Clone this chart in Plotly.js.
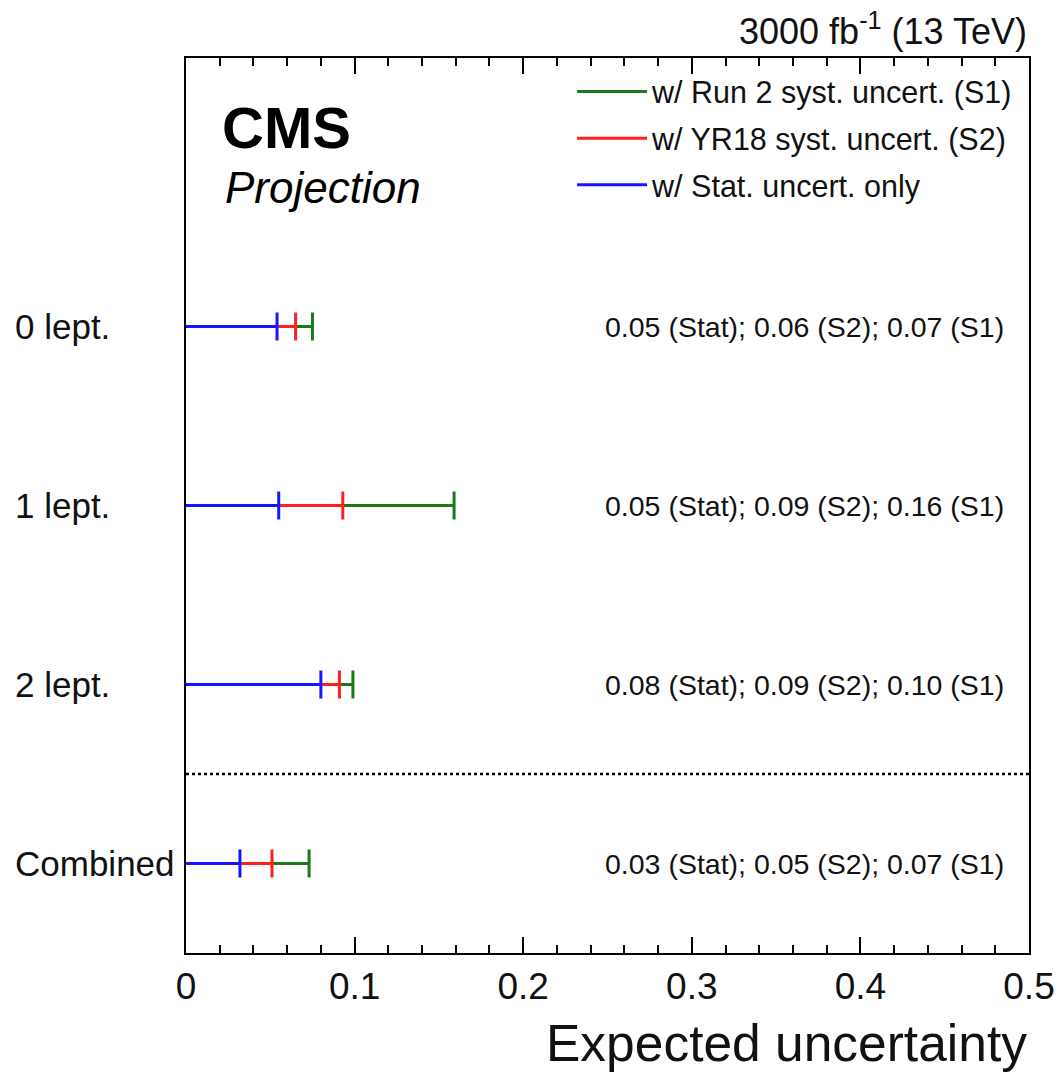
<!DOCTYPE html>
<html>
<head>
<meta charset="utf-8">
<script src="https://cdn.plot.ly/plotly-3.0.1.min.js"></script>
<style>html,body{margin:0;padding:0;background:#fff;}</style>
</head>
<body>
<div id="chart" style="width:1058px;height:1072px;"></div>
<script>
// ---- data ----
var categories = ['0 lept.', '1 lept.', '2 lept.', 'Combined'];
var statOnly = [0.054, 0.055, 0.080, 0.032];
var s2Syst   = [0.065, 0.093, 0.091, 0.051];
var s1Syst   = [0.075, 0.159, 0.099, 0.073];
var valueLabels = [
  '0.05 (Stat); 0.06 (S2); 0.07 (S1)',
  '0.05 (Stat); 0.09 (S2); 0.16 (S1)',
  '0.08 (Stat); 0.09 (S2); 0.10 (S1)',
  '0.03 (Stat); 0.05 (S2); 0.07 (S1)'
];
var seriesNames = ['w/ Run 2 syst. uncert. (S1)', 'w/ YR18 syst. uncert. (S2)', 'w/ Stat. uncert. only'];
var seriesColors = ['#1a7a1a', '#ff1f1f', '#1515ff'];
var seriesValues = [s1Syst, s2Syst, statOnly];

// y positions: first category on top
var yPos = categories.map(function (c, i) { return categories.length - i; });
var sepY = yPos[categories.length - 1] + 0.5;

var FONT = 'Liberation Sans, Arial, Helvetica, sans-serif';
var traces = [];
seriesValues.forEach(function (vals, s) {
  var lx = [], ly = [];
  vals.forEach(function (v, i) { lx.push(0, v, null); ly.push(yPos[i], yPos[i], null); });
  traces.push({
    type: 'scatter', mode: 'lines', x: lx, y: ly, name: seriesNames[s],
    legendgroup: 'g' + s, line: {color: seriesColors[s], width: 3}, hoverinfo: 'skip'
  });
  traces.push({
    type: 'scatter', mode: 'markers', x: vals, y: yPos, showlegend: false,
    legendgroup: 'g' + s,
    marker: {symbol: 'line-ns', size: 20, line: {color: seriesColors[s], width: 3}}
  });
});

var annotations = [];
categories.forEach(function (c, i) {
  annotations.push({xref: 'paper', yref: 'y', x: -0.2050, y: yPos[i], text: c,
    xanchor: 'left', yanchor: 'middle', showarrow: false, font: {size: 35, color: '#111', family: FONT}});
  annotations.push({xref: 'x', yref: 'y', x: 0.4866, y: yPos[i], text: valueLabels[i],
    xanchor: 'right', yanchor: 'middle', showarrow: false, font: {size: 28.5, color: '#111', family: FONT}});
});
annotations.push({xref: 'paper', yref: 'paper', x: 0.040, y: 0.922, text: '<b>CMS</b>',
  xanchor: 'left', yanchor: 'middle', showarrow: false, font: {size: 58, color: '#000', family: FONT}});
annotations.push({xref: 'paper', yref: 'paper', x: 0.044, y: 0.855, text: '<i>Projection</i>',
  xanchor: 'left', yanchor: 'middle', showarrow: false, font: {size: 44, color: '#000', family: FONT}});
annotations.push({xref: 'paper', yref: 'paper', x: 1.0, y: 1.005, text: '3000 fb<sup>-1</sup> (13 TeV)',
  xanchor: 'right', yanchor: 'bottom', showarrow: false, font: {size: 36, color: '#111', family: FONT}});
annotations.push({xref: 'paper', yref: 'paper', x: 1.0, y: -0.100, text: 'Expected uncertainty',
  xanchor: 'right', yanchor: 'middle', showarrow: false, font: {size: 51.5, color: '#111', family: FONT}});

var layout = {
  width: 1058, height: 1072,
  margin: {l: 186, r: 29, t: 58, b: 119, pad: 0},
  paper_bgcolor: '#fff', plot_bgcolor: '#fff',
  font: {family: FONT, color: '#111'},
  showlegend: true,
  legend: {x: 0.458, y: 0.992, xanchor: 'left', yanchor: 'top', bgcolor: 'rgba(0,0,0,0)',
    font: {size: 30.5, family: FONT, color: '#111'}, itemwidth: 70, tracegroupgap: 4, traceorder: 'grouped'},
  xaxis: {
    range: [0, 0.5], dtick: 0.1, tick0: 0, ticks: 'inside', ticklen: 16, tickwidth: 2, tickcolor: '#000',
    showline: true, linewidth: 2, linecolor: '#000', mirror: 'allticks', showgrid: false, zeroline: false,
    tickfont: {size: 37, family: FONT, color: '#111'},
    minor: {dtick: 0.02, ticks: 'inside', ticklen: 8, tickwidth: 2, tickcolor: '#000', showgrid: false}
  },
  yaxis: {
    range: [0.5, categories.length + 1.5], showticklabels: false, ticks: '', showgrid: false, zeroline: false,
    showline: true, linewidth: 2, linecolor: '#000', mirror: true
  },
  shapes: [{type: 'line', xref: 'paper', yref: 'y', x0: 0, x1: 1, y0: sepY, y1: sepY,
    line: {color: '#000', width: 2.5, dash: 'dot'}}],
  annotations: annotations
};

Plotly.newPlot('chart', traces, layout, {displayModeBar: false, staticPlot: true});
</script>
</body>
</html>
